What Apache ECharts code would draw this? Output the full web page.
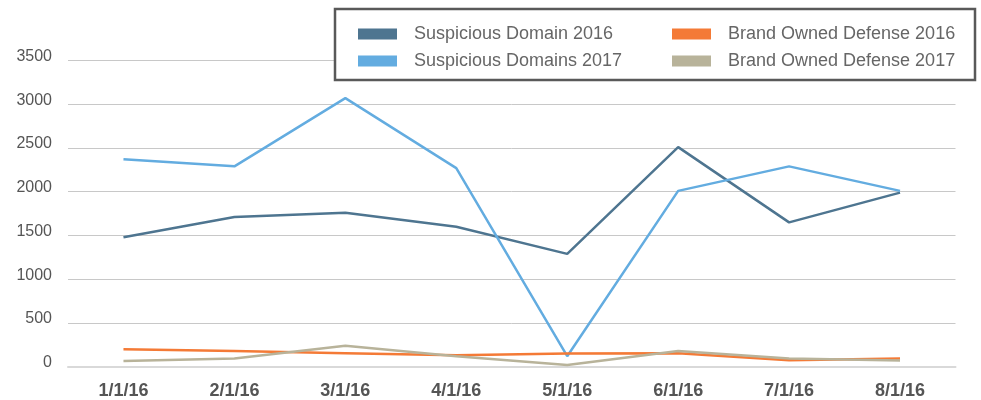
<!DOCTYPE html>
<html>
<head>
<meta charset="utf-8">
<script src="https://cdn.jsdelivr.net/npm/echarts@6/dist/echarts.min.js"></script>
<style>
html,body{margin:0;padding:0;background:#fff;}
#chart{width:981px;height:400px;}
</style>
</head>
<body>
<div id="chart"></div>
<script>
const categories = ['1/1/16','2/1/16','3/1/16','4/1/16','5/1/16','6/1/16','7/1/16','8/1/16'];
const suspicious2016 = [1480,1710,1760,1600,1290,2510,1650,1990];
const suspicious2017 = [2370,2290,3070,2270,120,2010,2290,2010];
const brand2016 = [200,180,155,130,150,155,75,95];
const brand2017 = [65,95,240,120,20,180,95,70];
const yTicks = {min:0, max:3500, interval:500};

const names = ['Suspicious Domain 2016','Suspicious Domains 2017','Brand Owned Defense 2016','Brand Owned Defense 2017'];
const colors = ['#4e7590','#63ace0','#f47a36','#b8b39a'];
const FONT = '"Liberation Sans", Arial, Helvetica, sans-serif';

const chart = echarts.init(document.getElementById('chart'), null, {renderer:'canvas'});
const legendBase = {
  orient:'vertical', top:25, padding:0, itemGap:9,
  itemWidth:39, itemHeight:11, icon:'rect', z:101,
  textStyle:{fontFamily:FONT, fontSize:18, color:'#666', lineHeight:18, padding:[0,0,0,12]}
};
chart.setOption({
  animation:false,
  color:colors,
  textStyle:{fontFamily:FONT},
  grid:{left:68, right:25.5, top:60.5, bottom:33.3, containLabel:false},
  graphic:[{
    type:'rect', z:100, silent:true,
    shape:{x:335, y:9, width:640, height:71},
    style:{fill:'#fff', stroke:'#595959', lineWidth:2.5}
  }],
  legend:[
    Object.assign({}, legendBase, {left:358, data:[names[0], names[1]]}),
    Object.assign({}, legendBase, {left:672, data:[names[2], names[3]]})
  ],
  xAxis:{
    type:'category', data:categories, boundaryGap:true,
    axisLine:{show:true, lineStyle:{color:'#d9d9d9', width:2}},
    axisTick:{show:false},
    axisLabel:{fontFamily:FONT, fontSize:18, fontWeight:'bold', color:'#555', margin:15}
  },
  yAxis:{
    type:'value', min:yTicks.min, max:yTicks.max, interval:yTicks.interval,
    axisLine:{show:false}, axisTick:{show:false},
    splitLine:{lineStyle:{color:'#c8c8c8', width:1}},
    axisLabel:{fontFamily:FONT, fontSize:16, color:'#555', margin:16,
      verticalAlign:'bottom', lineHeight:8,
      formatter:function(v){return String(v);}}
  },
  series:[
    {name:names[0], type:'line', data:suspicious2016, showSymbol:false, lineStyle:{width:2.5}},
    {name:names[1], type:'line', data:suspicious2017, showSymbol:false, lineStyle:{width:2.5}},
    {name:names[2], type:'line', data:brand2016, showSymbol:false, lineStyle:{width:2.5}},
    {name:names[3], type:'line', data:brand2017, showSymbol:false, lineStyle:{width:2.5}}
  ]
});
</script>
</body>
</html>
